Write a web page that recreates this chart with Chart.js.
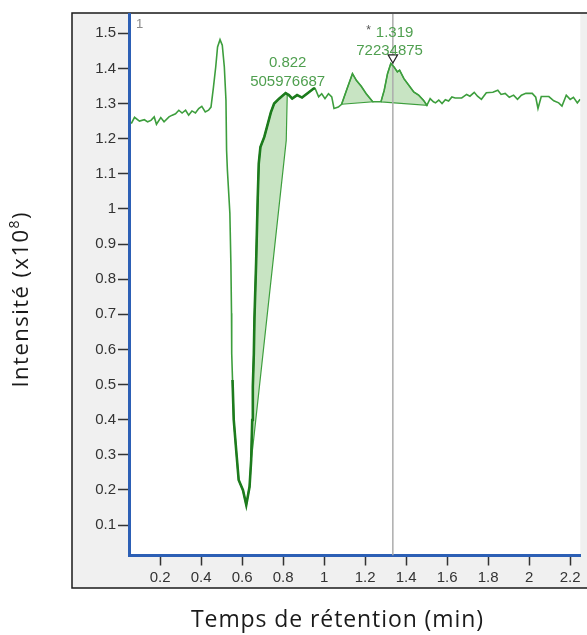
<!DOCTYPE html>
<html>
<head>
<meta charset="utf-8">
<script src="https://cdn.jsdelivr.net/npm/chart.js@4.4.1/dist/chart.umd.min.js"></script>
<style>
  html, body { margin: 0; padding: 0; background: #fff; }
</style>
</head>
<body>
<canvas id="chromChart" width="587" height="635"></canvas>
<script>
// Chromatogramme : temps de rétention (min) et intensité (x10^8)
const rt = [
  0.059, 0.075, 0.099, 0.123, 0.139, 0.155, 0.171, 0.182, 0.203, 0.219,
  0.243, 0.259, 0.275, 0.291, 0.307, 0.324, 0.339, 0.355, 0.372, 0.388,
  0.403, 0.420, 0.436, 0.448, 0.460, 0.471, 0.480, 0.492, 0.503, 0.513,
  0.521, 0.524, 0.528, 0.540, 0.545, 0.548, 0.549, 0.553, 0.559, 0.572,
  0.583, 0.604, 0.620, 0.636, 0.644, 0.649, 0.652, 0.657, 0.660, 0.668,
  0.676, 0.681, 0.689, 0.708, 0.740, 0.756, 0.780, 0.812, 0.820, 0.828,
  0.844, 0.868, 0.892, 0.916, 0.949, 0.956, 0.973, 0.988, 1.004, 1.021,
  1.037, 1.048, 1.069, 1.085, 1.109, 1.138, 1.157, 1.181, 1.205, 1.237,
  1.277, 1.293, 1.309, 1.325, 1.341, 1.357, 1.368, 1.389, 1.413, 1.437,
  1.461, 1.485, 1.501, 1.517, 1.533, 1.543, 1.559, 1.575, 1.591, 1.607,
  1.623, 1.639, 1.671, 1.695, 1.711, 1.732, 1.748, 1.767, 1.791, 1.823,
  1.847, 1.863, 1.883, 1.903, 1.924, 1.943, 1.962, 1.984, 2.015, 2.032,
  2.043, 2.059, 2.096, 2.120, 2.144, 2.160, 2.181, 2.200, 2.216, 2.235,
  2.249
];
const intensity = [
  1.243, 1.261, 1.250, 1.254, 1.248, 1.252, 1.262, 1.241, 1.260, 1.248,
  1.262, 1.267, 1.271, 1.281, 1.273, 1.281, 1.267, 1.279, 1.273, 1.286,
  1.292, 1.276, 1.281, 1.290, 1.347, 1.404, 1.461, 1.482, 1.466, 1.404,
  1.309, 1.167, 1.110, 0.988, 0.845, 0.703, 0.589, 0.513, 0.399, 0.305,
  0.228, 0.199, 0.157, 0.209, 0.285, 0.399, 0.494, 0.589, 0.690, 0.845,
  1.034, 1.130, 1.176, 1.205, 1.275, 1.300, 1.314, 1.330, 1.327, 1.324,
  1.314, 1.324, 1.317, 1.328, 1.343, 1.343, 1.319, 1.328, 1.314, 1.328,
  1.319, 1.286, 1.290, 1.298, 1.338, 1.385, 1.366, 1.349, 1.328, 1.305,
  1.305, 1.338, 1.385, 1.414, 1.404, 1.390, 1.395, 1.371, 1.352, 1.333,
  1.324, 1.309, 1.295, 1.314, 1.305, 1.302, 1.310, 1.300, 1.311, 1.307,
  1.319, 1.316, 1.316, 1.326, 1.321, 1.332, 1.321, 1.312, 1.331, 1.332,
  1.338, 1.326, 1.329, 1.318, 1.324, 1.312, 1.324, 1.329, 1.329, 1.318,
  1.286, 1.320, 1.320, 1.308, 1.302, 1.293, 1.324, 1.312, 1.318, 1.302,
  1.312
];

// Zones intégrées [début, fin] (min)
const peakA = [0.644, 0.820];
const peakABaseRt = [0.815, 0.652];
const peakABaseInt = [1.195, 0.322];
const peakB = [1.085, 1.237];
const peakC = [1.277, 1.501];
const boldRange = [0.553, 0.956];

// Annotations des pics
const labelRt = [0.822, 1.319];
const labelApex = [1.327, 1.414];
const labelLine1 = ['0.822', '1.319'];
const labelLine2 = ['505976687', '72234875'];

const cursorRt = 1.335;
const markerInt = 1.431;

const xTicks = [0.2, 0.4, 0.6, 0.8, 1, 1.2, 1.4, 1.6, 1.8, 2, 2.2];
const yTicks = [0.1, 0.2, 0.3, 0.4, 0.5, 0.6, 0.7, 0.8, 0.9, 1, 1.1, 1.2, 1.3, 1.4, 1.5];

const xMin = 0.048, xMax = 2.2494;
const yMin = 0.0132, yMax = 1.555;

const greenLine = '#3d9e3d';
const darkGreen = '#1d7b1d';
const fillGreen = '#c8e4c3';
const labelGreen = '#4f9f4f';

function pts(filterFn) {
  const out = [];
  rt.forEach((x, i) => { if (filterFn(x)) out.push({ x: x, y: intensity[i] }); });
  return out;
}

function inRange(r) {
  return x => x >= r[0] - 1e-9 && x <= r[1] + 1e-9;
}

// Polygone du pic A : tracé + ligne de base
const polyA = pts(inRange(peakA));
peakABaseRt.forEach((x, i) => polyA.push({ x: x, y: peakABaseInt[i] }));
polyA.push(polyA[0]);
const polyB = pts(inRange(peakB));
polyB.push(polyB[0]);
const polyC = pts(inRange(peakC));
polyC.push(polyC[0]);

// espacement des lettres pour atteindre une largeur donnée
function spacingFor(ctx, parts, target) {
  let w = 0, n = 0;
  parts.forEach(p => { ctx.font = p.font; w += ctx.measureText(p.text).width; n += p.text.length; });
  return Math.max(0, (target - w) / (n - 1));
}

function drawParts(ctx, parts, x, y, sp) {
  let cx = x;
  parts.forEach(p => {
    ctx.font = p.font;
    ctx.letterSpacing = sp + 'px';
    ctx.fillText(p.text, cx, y + (p.dy || 0));
    cx += ctx.measureText(p.text).width;
  });
  ctx.letterSpacing = '0px';
}

const framePlugin = {
  id: 'frame',
  beforeDraw(chart) {
    const ctx = chart.ctx;
    const a = chart.chartArea;
    ctx.save();
    ctx.fillStyle = '#f0f0f0';
    ctx.fillRect(72, 13, 520, 575);
    ctx.fillStyle = '#ffffff';
    ctx.fillRect(a.left, a.top, a.right - a.left, a.bottom - a.top);
    ctx.strokeStyle = '#1a1a1a';
    ctx.lineWidth = 1.5;
    ctx.strokeRect(72, 13, 530, 575);
    ctx.restore();
  },
  afterDraw(chart) {
    const ctx = chart.ctx;
    const a = chart.chartArea;
    const xs = chart.scales.x, ys = chart.scales.y;
    ctx.save();

    // numéro de trace
    ctx.fillStyle = '#8a8a8a';
    ctx.font = '13px "Liberation Sans"';
    ctx.textAlign = 'left';
    ctx.textBaseline = 'middle';
    ctx.fillText('1', a.left + 7, a.top + 10);

    // annotations des pics
    ctx.font = '15px "Liberation Sans"';
    ctx.fillStyle = labelGreen;
    ctx.textAlign = 'center';
    labelRt.forEach((r, i) => {
      const px = xs.getPixelForValue(r);
      const py = ys.getPixelForValue(labelApex[i]);
      ctx.fillText(labelLine1[i], px + (i === 1 ? 5 : 0), py - 31);
      ctx.fillText(labelLine2[i], px, py - 12.5);
    });
    // astérisque devant 1.319
    ctx.fillStyle = '#555';
    ctx.font = '12px "Liberation Sans"';
    ctx.fillText('*', xs.getPixelForValue(labelRt[1]) - 21, ys.getPixelForValue(labelApex[1]) - 33);

    // titres des axes
    ctx.fillStyle = '#1a1a1a';
    ctx.textBaseline = 'alphabetic';
    ctx.textAlign = 'left';
    const xTitle = [{ text: 'Temps de rétention (min)', font: '23px "Open Sans"' }];
    const spx = spacingFor(ctx, xTitle, 292);
    drawParts(ctx, xTitle, 191, 627, spx);

    const yTitle = [
      { text: 'Intensité (x10', font: '22px "Open Sans"' },
      { text: '8', font: '14px "Open Sans"', dy: -9 },
      { text: ')', font: '22px "Open Sans"' }
    ];
    const spy = spacingFor(ctx, yTitle, 175);
    ctx.translate(28, 300);
    ctx.rotate(-Math.PI / 2);
    drawParts(ctx, yTitle, -87.5, 0, spy);
    ctx.restore();
  }
};

const tickFont = { family: '"Liberation Sans", Arial, sans-serif', size: 15 };

new Chart(document.getElementById('chromChart'), {
  type: 'line',
  data: {
    datasets: [
      {
        data: polyA, fill: 'shape', backgroundColor: fillGreen,
        borderColor: greenLine, borderWidth: 1.2, pointRadius: 0, order: 5
      },
      {
        data: polyB, fill: 'shape', backgroundColor: fillGreen,
        borderColor: greenLine, borderWidth: 1.2, pointRadius: 0, order: 5
      },
      {
        data: polyC, fill: 'shape', backgroundColor: fillGreen,
        borderColor: greenLine, borderWidth: 1.2, pointRadius: 0, order: 5
      },
      {
        data: [{ x: cursorRt, y: yMin }, { x: cursorRt, y: yMax }],
        borderColor: '#acacac', borderWidth: 1.5, pointRadius: 0, fill: false, order: 4
      },
      {
        data: pts(() => true), borderColor: greenLine, borderWidth: 1.6,
        pointRadius: 0, fill: false, order: 2
      },
      {
        data: pts(inRange(boldRange)), borderColor: darkGreen, borderWidth: 2.6,
        pointRadius: 0, fill: false, order: 1
      },
      {
        data: [{ x: cursorRt, y: markerInt }], showLine: false,
        pointStyle: 'triangle', rotation: 180, pointRadius: 5.5,
        pointBackgroundColor: '#ffffff', pointBorderColor: '#222', pointBorderWidth: 1.2,
        order: 0
      }
    ]
  },
  options: {
    responsive: false,
    devicePixelRatio: 1,
    animation: false,
    layout: { padding: { left: 72, top: 14, right: 0, bottom: 47 } },
    plugins: { legend: { display: false }, tooltip: { enabled: false } },
    scales: {
      x: {
        type: 'linear', min: xMin, max: xMax,
        afterFit: s => { s.height = 32.5; },
        afterBuildTicks: s => { s.ticks = xTicks.map(v => ({ value: v })); },
        grid: { display: true, drawOnChartArea: false, drawTicks: true, tickLength: 10, tickColor: '#333', tickWidth: 1.5 },
        border: { display: true, color: '#2c5fb5', width: 3 },
        ticks: { autoSkip: false, maxRotation: 0, padding: 3, color: '#333', font: tickFont, callback: v => String(v) }
      },
      y: {
        min: yMin, max: yMax,
        afterFit: s => { s.width = 57; },
        afterBuildTicks: s => { s.ticks = yTicks.map(v => ({ value: v })); },
        grid: { display: true, drawOnChartArea: false, drawTicks: true, tickLength: 11, tickColor: '#333', tickWidth: 1.5 },
        border: { display: true, color: '#2c5fb5', width: 3 },
        ticks: { autoSkip: false, padding: 2, color: '#333', font: tickFont, callback: v => String(v) }
      }
    }
  },
  plugins: [framePlugin]
});
</script>
</body>
</html>
